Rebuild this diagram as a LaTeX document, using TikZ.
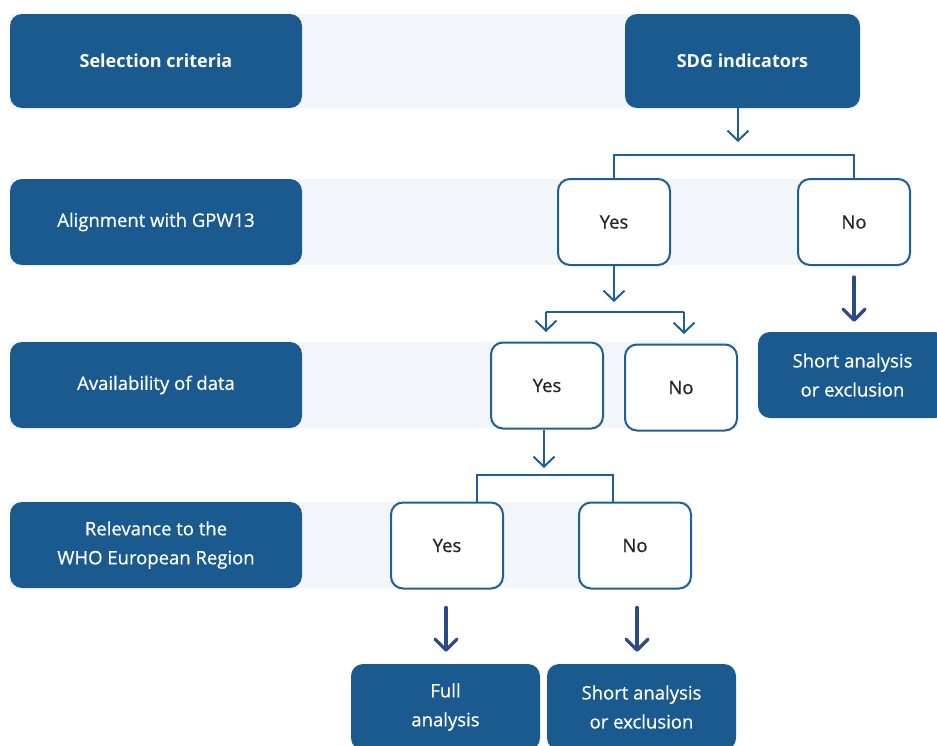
\documentclass[tikz,border=0pt]{standalone}
\usepackage{fontspec}
\setmainfont{Open Sans}[UprightFeatures={FakeBold=0.6}]
\usetikzlibrary{arrows.meta,positioning,calc}
\definecolor{navy}{RGB}{26,90,142}
\definecolor{rim}{RGB}{31,95,153}
\definecolor{deep}{RGB}{44,74,138}
\definecolor{mist}{RGB}{242,246,250}
\definecolor{ink}{RGB}{35,35,40}
\tikzset{
  crit/.style={fill=navy,text=white,rounded corners=12pt,minimum width=#1,
    minimum height=86pt,align=center,font=\fontsize{18.5}{29}\selectfont},
  crit/.default=292pt,
  head/.style={crit=#1,minimum height=94pt,font=\fontsize{18}{29}\selectfont\bfseries},
  head/.default=292pt,
  choice/.style={draw=rim,line width=2pt,fill=white,text=ink,rounded corners=12pt,
    minimum width=112pt,minimum height=86pt,font=\fontsize{18.5}{29}\selectfont},
  outcome/.style={crit=189pt},
  flow/.style={draw=rim,line width=2pt,-{Straight Barb[length=10pt,width=21pt,line width=2pt]}},
  wire/.style={draw=rim,line width=2pt},
  push/.style={draw=deep,line width=3.3pt,line cap=round,
    -{Straight Barb[length=11pt,width=22pt,line width=3.3pt,round]}},
}

\begin{document}
\begin{tikzpicture}[x=1pt,y=-1pt]
  \useasboundingbox (0,0) rectangle (937,745);
  \clip (0,0) rectangle (937,745);
  % row bands
  \fill[mist] (10,14) rectangle (860,108);
  \fill[mist] (10,179) rectangle (910,265);
  \fill[mist] (10,342) rectangle (737,428);
  \fill[mist] (10,502) rectangle (691,588);

  % criteria column
  \node[head] (selcrit) at (156,61) {Selection criteria};
  \node[crit] (align) at (156,222) {Alignment with GPW13};
  \node[crit] (avail) at (156,385) {Availability of data};
  \node[crit] (relev) at (156,545) {Relevance to the\\WHO European Region};

  % decision tree
  \node[head=235pt] (sdg) at (742.5,61) {SDG indicators};
  \node[choice] (yes1) at (614,222) {Yes};
  \node[choice] (no1) at (854,222) {No};
  \node[choice] (yes2) at (547,385.5) {Yes};
  \node[choice] (no2) at (681,387.5) {No};
  \node[choice] (yes3) at (447,545.5) {Yes};
  \node[choice] (no3) at (635,545.5) {No};
  \node[outcome] (short1) at (852.5,375) {Short analysis\\or exclusion};
  \node[outcome] (full) at (445.5,707) {Full\\analysis};
  \node[outcome] (short3) at (641.5,707) {Short analysis\\or exclusion};

  \coordinate (fork1) at (738,155);
  \coordinate (fork2) at (614,312);
  \coordinate (fork3) at (544,475);

  \draw[flow,shorten >=13pt] (sdg.south -| fork1) -- (fork1);
  \draw[wire] (yes1.north) |- (fork1) -| (no1.north);
  \draw[flow,shorten >=10pt] (yes1.south) -- (fork2);
  \draw[wire] (fork2 -| 546,0) -- (fork2 -| 684,0);
  \draw[flow,shorten >=11pt] (fork2 -| 546,0) -- (546,343);
  \draw[flow,shorten >=11pt] (fork2 -| 684,0) -- (684,345);
  \draw[push,shorten <=11pt,shorten >=10pt] (no1.south) -- (no1.south |- short1.north);
  \draw[flow,shorten >=7pt] (yes2.south -| fork3) -- (fork3);
  \draw[wire] ([xshift=30pt]yes3.north) |- (fork3) -| ([xshift=-22pt]no3.north);
  \draw[push,shorten <=18pt,shorten >=12pt] ([xshift=-1pt]yes3.south) -- ([xshift=-1pt]yes3.south |- full.north);
  \draw[push,shorten <=18pt,shorten >=12pt] ([xshift=2pt]no3.south) -- ([xshift=2pt]no3.south |- short3.north);
\end{tikzpicture}
\end{document}
